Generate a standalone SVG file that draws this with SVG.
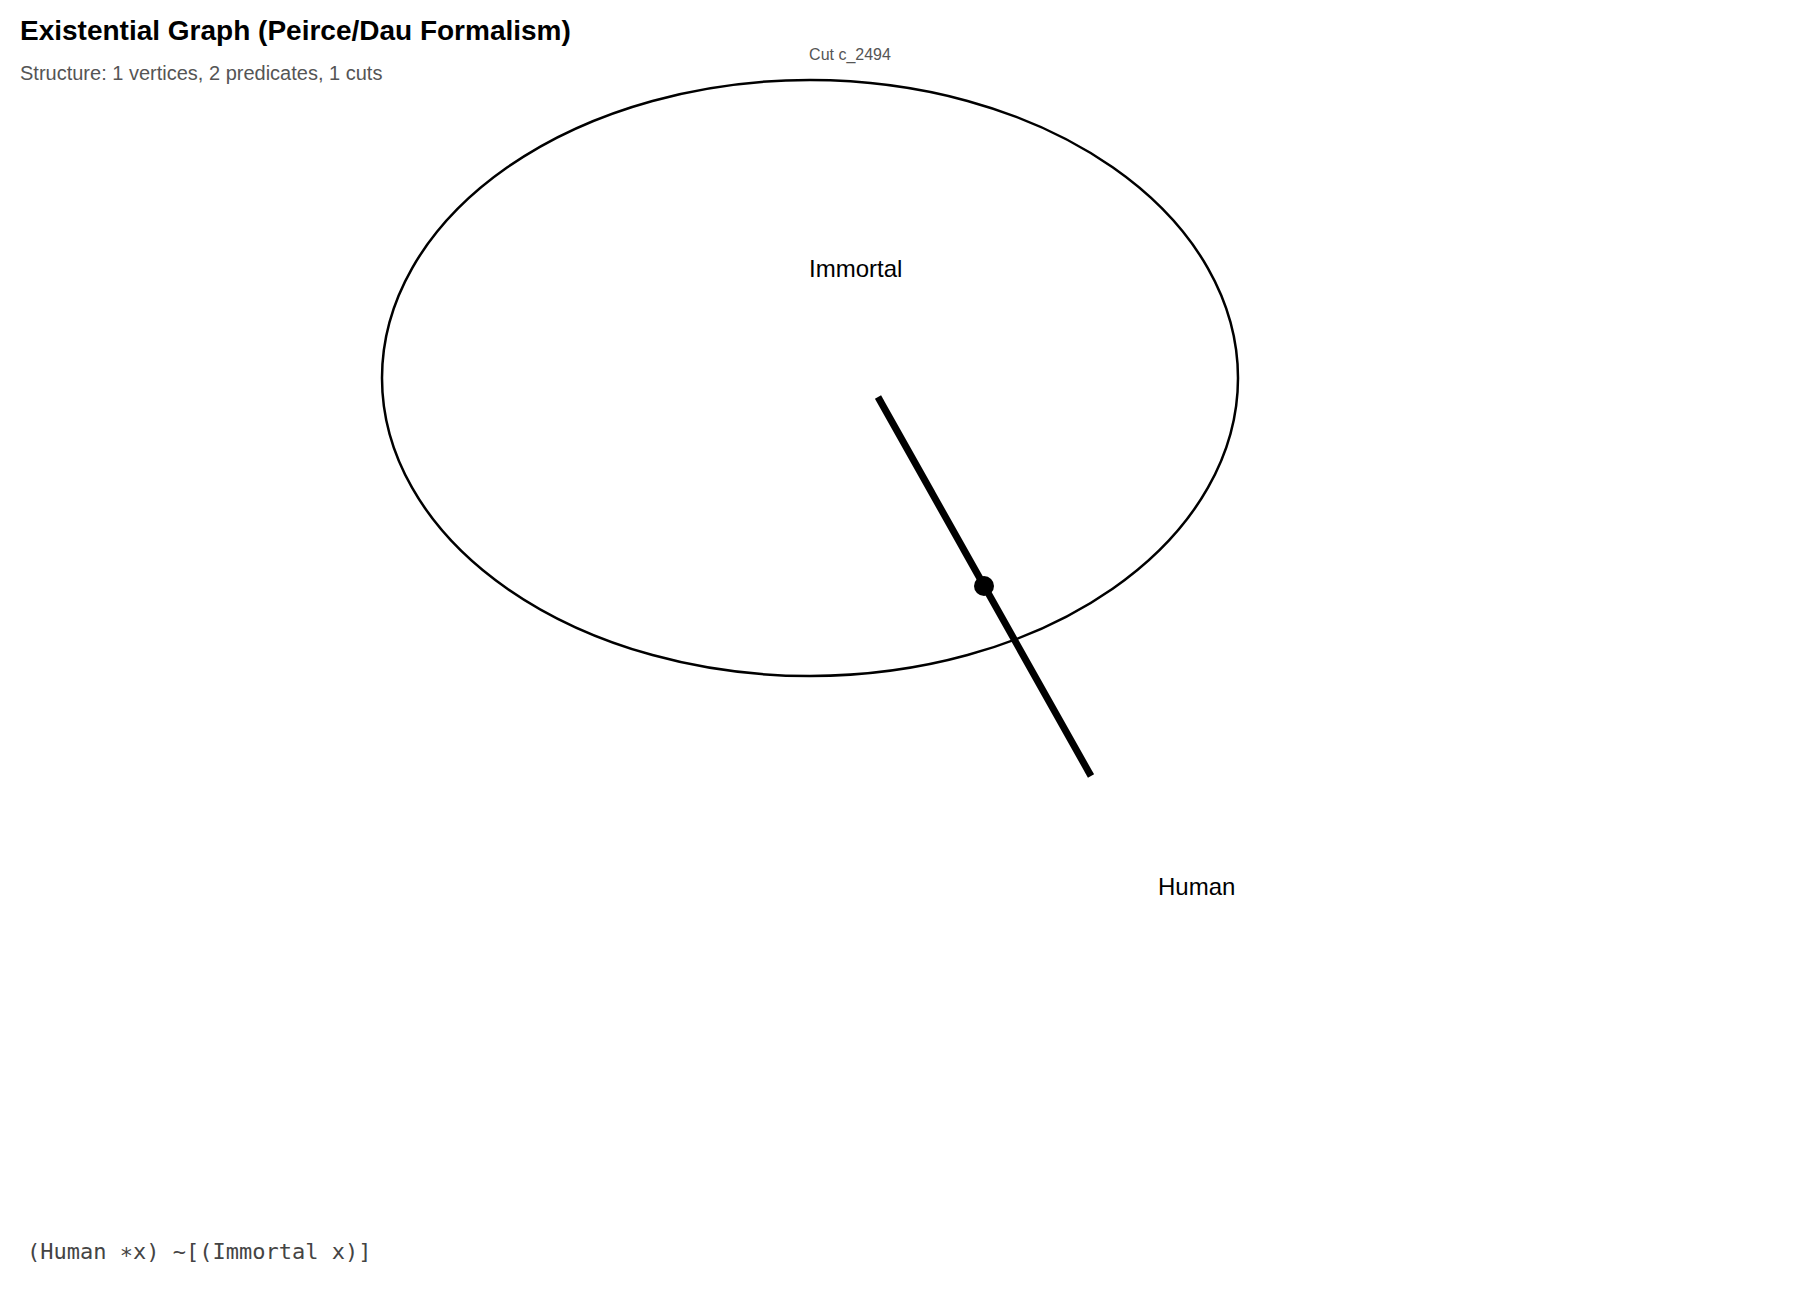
<svg xmlns="http://www.w3.org/2000/svg" width="1800" height="1300" viewBox="0 0 1800 1300">
<style>
.title{font-family:"Liberation Sans",Arial,sans-serif;font-size:28px;font-weight:bold;fill:#000}
.sub{font-family:"Liberation Sans",Arial,sans-serif;font-size:20px;fill:#555}
.cutlbl{font-family:"Liberation Sans",Arial,sans-serif;font-size:16px;fill:#555}
.pred{font-family:"Liberation Sans",Arial,sans-serif;font-size:24px;fill:#000}
.formula{font-family:"DejaVu Sans Mono",monospace;font-size:22px;fill:#444}
.cut{fill:none;stroke:#000;stroke-width:2.5}
.lig{stroke:#000;stroke-width:7;fill:none}
</style>
<rect width="1800" height="1300" fill="#fff"/>
<text class="title" x="20" y="40">Existential Graph (Peirce/Dau Formalism)</text>
<text class="sub" x="20" y="80">Structure: 1 vertices, 2 predicates, 1 cuts</text>
<g id="cut_c_2494">
<ellipse class="cut" cx="810" cy="378" rx="428" ry="298"/>
<text class="cutlbl" x="850" y="60" text-anchor="middle">Cut c_2494</text>
</g>
<g id="connectors">
<line class="lig" x1="878" y1="397" x2="1091" y2="776"/>
</g>
<g id="vertex_x">
<circle cx="984" cy="586" r="10" fill="#000"/>
</g>
<g id="pred_immortal">
<text class="pred" x="809" y="277">Immortal</text>
</g>
<g id="pred_human">
<text class="pred" x="1158" y="895">Human</text>
</g>
<text class="formula" x="27" y="1259">(Human ∗x) ~[(Immortal x)]</text>
</svg>
